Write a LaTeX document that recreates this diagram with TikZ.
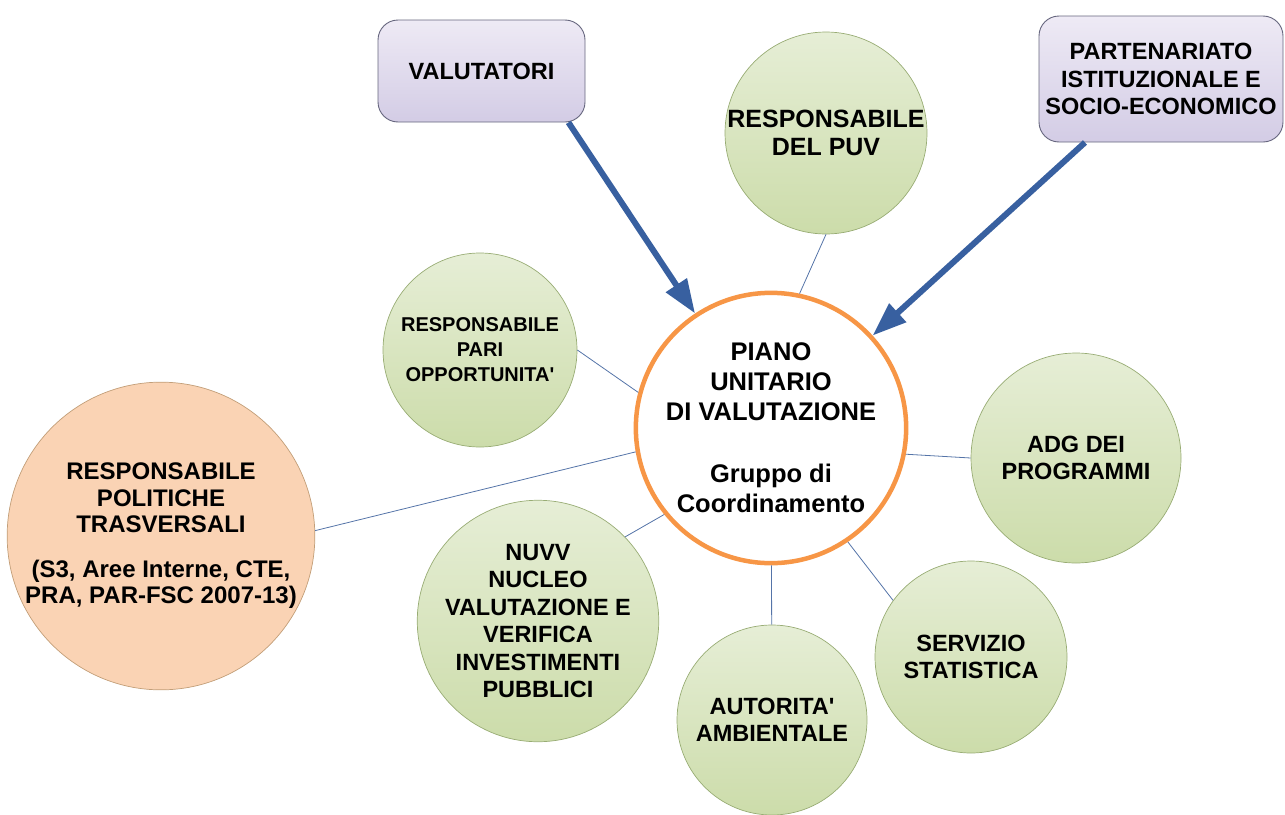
\documentclass[tikz,border=0pt]{standalone}
\usepackage{fontspec}
\setmainfont{Liberation Sans}
\usetikzlibrary{arrows.meta}
\definecolor{puvorange}{HTML}{F79646}
\definecolor{greentop}{HTML}{E6EED6}
\definecolor{greenbot}{HTML}{CCDCAA}
\definecolor{greenline}{HTML}{98AC74}
\definecolor{peach}{HTML}{FAD3B4}
\definecolor{peachline}{HTML}{C29E78}
\definecolor{lilactop}{HTML}{EEEAF5}
\definecolor{lilacbot}{HTML}{D3CCE5}
\definecolor{lilacline}{HTML}{66667E}
\definecolor{arrowblue}{HTML}{3860A0}
\definecolor{linkblue}{HTML}{5574A8}
\tikzset{
	bubble/.style={circle, draw=greenline, line width=0.7pt, top color=greentop, bottom color=greenbot, inner sep=0pt, align=center, font=\bfseries\fontsize{23.5}{27.5}\selectfont},
	actorbox/.style={rectangle, rounded corners=20pt, draw=lilacline, line width=0.9pt, top color=lilactop, bottom color=lilacbot, inner sep=0pt, align=center, font=\bfseries\fontsize{23.5}{27.5}\selectfont},
	bigarrow/.style={draw=arrowblue, line width=6pt, -{Triangle[length=34pt,width=24pt]}},
	link/.style={draw=linkblue, line width=0.8pt}
}

\begin{document}
\begin{tikzpicture}[x=1pt,y=-1pt]
		%%%%% START %%%%%
		\useasboundingbox (0,0) rectangle (1285,814);
		
		\node[circle, draw=puvorange, line width=4.5pt, fill=white, minimum size=270pt, inner sep=0pt, align=center, font=\bfseries\fontsize{25.5}{30}\selectfont] (central) at (771,428) {PIANO\\UNITARIO\\DI VALUTAZIONE\\[32pt]Gruppo di\\Coordinamento};
		
		\node[actorbox, minimum width=207pt, minimum height=102pt] (valut) at (481.5,71) {VALUTATORI};
		\node[actorbox, minimum width=244pt, minimum height=126pt] (partner) at (1161,79) {PARTENARIATO\\ISTITUZIONALE E\\SOCIO-ECONOMICO};
		
		\node[bubble, minimum size=200pt, font=\bfseries\fontsize{25}{27.5}\selectfont] (puv) at (826,133) {RESPONSABILE\\DEL PUV};
		\node[bubble, minimum size=194pt, font=\bfseries\fontsize{20}{25}\selectfont] (pari) at (480,350) {RESPONSABILE\\PARI\\OPPORTUNITA\textquotesingle};
		\node[bubble, minimum size=210pt] (adg) at (1076,458) {ADG DEI\\PROGRAMMI};
		\node[bubble, minimum size=192pt] (serv) at (971,657) {SERVIZIO\\STATISTICA};
		\node[bubble, minimum size=190pt] (aut) at (772,720) {AUTORITA\textquotesingle\\AMBIENTALE};
		\node[bubble, minimum size=216pt] (nuvv) at (538,621) {NUVV\\NUCLEO\\VALUTAZIONE E\\VERIFICA\\INVESTIMENTI\\PUBBLICI};
		\node[circle, draw=peachline, line width=0.7pt, fill=peach, minimum size=300pt, inner sep=0pt, align=center, font=\bfseries\fontsize{24}{26.5}\selectfont] (polit) at (161,536) {RESPONSABILE\\POLITICHE\\TRASVERSALI\\[18pt](S3, Aree Interne, CTE,\\PRA, PAR-FSC 2007-13)};
		
		\draw[link] (puv.south) -- (central.78);
		\draw[link] (pari.east) -- (central.165);
		\draw[link] (adg.west) -- (central.-11);
		\draw[link] (serv.144) -- (central.-56);
		\draw[link] (aut) -- (central);
		\draw[link] (nuvv.44) -- (central.219);
		\draw[link] (polit.2) -- (central.190);
		
		\draw[bigarrow] ([xshift=-17pt]valut.south east) -- (central);
		\draw[bigarrow] ([xshift=-76pt]partner.south) -- (central);
		%%%%% END %%%%%
	\end{tikzpicture}
\end{document}
